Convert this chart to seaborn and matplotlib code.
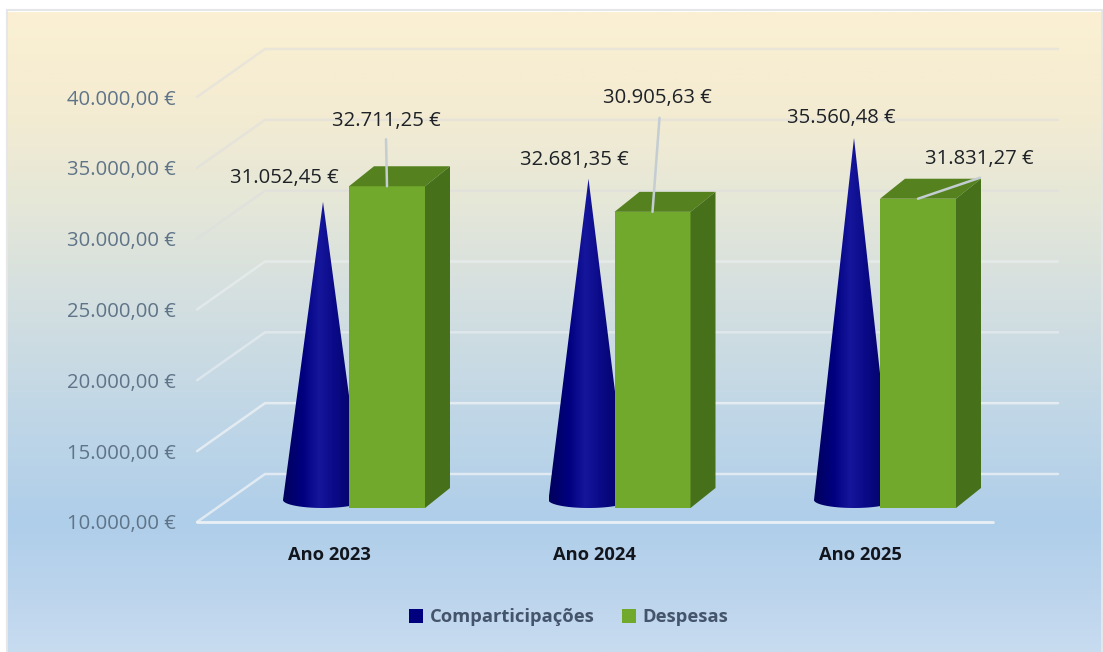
import numpy as np
import pandas as pd
import matplotlib
matplotlib.use("Agg")
import matplotlib.pyplot as plt
from matplotlib.colors import LinearSegmentedColormap
from matplotlib.lines import Line2D
from matplotlib.patches import Polygon
import seaborn as sns

# ---- data ----
years = ["Ano 2023", "Ano 2024", "Ano 2025"]
comparticipacoes = [31052.45, 32681.35, 35560.48]
despesas = [32711.25, 30905.63, 31831.27]
series_names = ["Comparticipações", "Despesas"]
axis_ticks = [10000, 15000, 20000, 25000, 30000, 35000, 40000]

# ---- layout (pixels of the 1103x652 canvas) ----
W, H = 1103, 652
FLOOR_PY, TOP_PY = 522, 48
LEFT_PX, RIGHT_PX = 197, 1058
PX_PER_UNIT = 425 / 30000
PX_PER_CAT = 265.5
BAR0_PX = 387
BAR_W = 76
CONE_SHIFT = -64
CONE_HALF = 40
CONE_RY = 8
BAR_PLANE = 14
CONE_PLANE = 22
WALL_DX, WALL_DY = 68, 48
BAR_DX, BAR_DY = 25, 20
FRONT_END_PX = 993
# text offsets from the top of each mark (px)
CONE_LABEL_OFF = [(-39, 24), (-14, 19), (-13, 20)]
BAR_LABEL_OFF = [(-1, 65), (5, 114), (61, 40)]
BAR_LEADER = [(-1, 47), (7, 94), (62, 21)]
BAR_LEADER_START = [(0, 0), (0, 0), (0, 0)]

GREEN, GREEN_TOP, GREEN_SIDE = "#70A92C", "#55821F", "#47701B"
NAVY = "#00007F"
TICK_C, LABEL_C, LEG_C = "#5F7488", "#1E2226", "#44546A"
GRID_C = "#F0F3F6"
LEADER_C = "#C3CDD2"

sns.set_theme(style="white")
plt.rcParams["font.family"] = ["Open Sans", "DejaVu Sans"]

fig = plt.figure(figsize=(W / 100, H / 100), dpi=100, facecolor="white")

# panel with vertical gradient
bg = fig.add_axes([8 / W, 0, (W - 10) / W, 1 - 12 / H], zorder=-1)
bg_cmap = LinearSegmentedColormap.from_list("bg", [
    (0.00, "#FBF0D2"), (0.15, "#F4ECD2"), (0.30, "#E5E7D8"), (0.45, "#D4DFE0"),
    (0.62, "#C1D7E6"), (0.80, "#AFCEEA"), (0.92, "#BDD5ED"), (1.00, "#C8DCF0")])
bg.imshow(np.linspace(0, 1, 256)[:, None], aspect="auto", cmap=bg_cmap, vmin=0, vmax=1)
bg.axis("off")
fig.patches.append(plt.Rectangle((7 / W, 0), (W - 8) / W, 1 - 10 / H, transform=fig.transFigure,
                                 fill=False, ec="#E4E6E8", lw=1.5, zorder=-2))

ax = fig.add_axes([LEFT_PX / W, 1 - FLOOR_PY / H, (RIGHT_PX - LEFT_PX) / W, (FLOOR_PY - TOP_PY) / H])
ax.patch.set_alpha(0)

ux = 1 / PX_PER_CAT            # category units per pixel
uy = 1 / PX_PER_UNIT           # value units per pixel
xlim = ((LEFT_PX - BAR0_PX) * ux, (RIGHT_PX - BAR0_PX) * ux)
ylim = (10000, 10000 + (FLOOR_PY - TOP_PY) * uy)

# bars through seaborn: top of each bar sits on the bar plane
df = pd.DataFrame({"ano": years, "valor": despesas})
df["topo"] = df["valor"] + BAR_PLANE * uy
sns.barplot(data=df, x="ano", y="topo", color=GREEN, saturation=1, width=BAR_W * ux,
            ax=ax, zorder=5, linewidth=0)
base = 10000 + BAR_PLANE * uy
bar_tops = df["topo"].to_numpy()
for p, t in zip(ax.patches, bar_tops):
    p.set_y(base)
    p.set_height(t - base)
    x0, x1 = p.get_x(), p.get_x() + p.get_width()
    ddx, ddy = BAR_DX * ux, BAR_DY * uy
    ax.add_patch(Polygon([(x0, t), (x1, t), (x1 + ddx, t + ddy), (x0 + ddx, t + ddy)],
                         fc=GREEN_TOP, ec="none", zorder=5))
    ax.add_patch(Polygon([(x1, base), (x1, t), (x1 + ddx, t + ddy), (x1 + ddx, base + ddy)],
                         fc=GREEN_SIDE, ec="none", zorder=5))

# walls and gridlines
for i, tv in enumerate(axis_ticks):
    a = 0.45 + 0.45 * i / 6 if tv < 30000 else 0.45
    a = 0.75 if tv <= 15000 else 0.5
    ax.plot([xlim[0], xlim[0] + WALL_DX * ux, xlim[1]],
            [tv, tv + WALL_DY * uy, tv + WALL_DY * uy],
            color=GRID_C if tv < 30000 else "#DDDDE0", alpha=a, lw=1.8, clip_on=False, zorder=1,
            solid_joinstyle="miter")
ax.plot([xlim[0], (FRONT_END_PX - BAR0_PX) * ux], [10000, 10000], color=GRID_C, alpha=0.9,
        lw=2.0, clip_on=False, zorder=1)

# cones
cone_cmap = LinearSegmentedColormap.from_list("cone", [
    (0.0, "#00005C"), (0.25, "#000080"), (0.45, "#16169C"), (0.65, "#0A0A88"), (1.0, "#00005A")])
hw = CONE_HALF * ux
ry = CONE_RY * uy
cone_base = 10000 + CONE_PLANE * uy
for i, v in enumerate(comparticipacoes):
    cx = i + CONE_SHIFT * ux
    apex = v + CONE_PLANE * uy
    th = np.linspace(np.pi, 2 * np.pi, 40)
    arc = np.column_stack([cx + hw * np.cos(th), cone_base + ry * np.sin(th)])
    poly = Polygon(np.vstack([arc, [[cx, apex]]]), transform=ax.transData, fc="none", ec="none")
    ax.add_patch(poly)
    im = ax.imshow(np.linspace(0, 1, 128)[None, :], cmap=cone_cmap, aspect="auto", zorder=3,
                   extent=(cx - hw, cx + hw, cone_base - ry, apex), vmin=0, vmax=1)
    im.set_clip_path(poly)

ax.set_xlim(*xlim)
ax.set_ylim(*ylim)
ax.set_xlabel("")
ax.set_ylabel("")
for s in ax.spines.values():
    s.set_visible(False)

ax.set_xticks([i + (-58) * ux for i in range(3)])
ax.set_xticklabels(years, fontsize=13.2, fontweight="bold", color="#12161C")
ax.set_yticks(axis_ticks)
ax.set_yticklabels([f"{t:,.2f} €".replace(",", "#").replace(".", ",").replace("#", ".") for t in axis_ticks],
                   fontsize=14.6, color=TICK_C)
ax.tick_params(axis="x", length=0, pad=17)
ax.tick_params(axis="y", length=0, pad=15.5)
ax.grid(False)


def fmt(v):
    return f"{v:,.2f} €".replace(",", "#").replace(".", ",").replace("#", ".")


for i, v in enumerate(comparticipacoes):
    cx = i + CONE_SHIFT * ux
    ax.annotate(fmt(v), xy=(cx, v + CONE_PLANE * uy), xytext=CONE_LABEL_OFF[i], textcoords="offset pixels",
                ha="center", va="center", fontsize=14.6, color=LABEL_C, zorder=8, annotation_clip=False)
for i, v in enumerate(despesas):
    t = bar_tops[i]
    ax.annotate("", xy=(i, t), xytext=BAR_LEADER[i], textcoords="offset pixels",
                arrowprops=dict(arrowstyle="-", color=LEADER_C, lw=1.8, shrinkA=0, shrinkB=0), zorder=7)
    ax.annotate(fmt(v), xy=(i, t), xytext=BAR_LABEL_OFF[i], textcoords="offset pixels",
                ha="center", va="center", fontsize=14.6, color=LABEL_C, zorder=8, annotation_clip=False)

handles = [Line2D([], [], marker="s", ls="", color=c, markersize=10, markeredgewidth=0) for c in (NAVY, GREEN)]
leg = fig.legend(handles, series_names, loc="center", bbox_to_anchor=(568 / W, 1 - 617 / H), ncol=2,
                 frameon=False, handlelength=0.9, handletextpad=0.3, columnspacing=1.4, numpoints=1,
                 prop={"family": "Open Sans", "weight": "bold", "size": 13.2})
for t in leg.get_texts():
    t.set_color(LEG_C)

fig.savefig("out.png", dpi=100, facecolor="white")
